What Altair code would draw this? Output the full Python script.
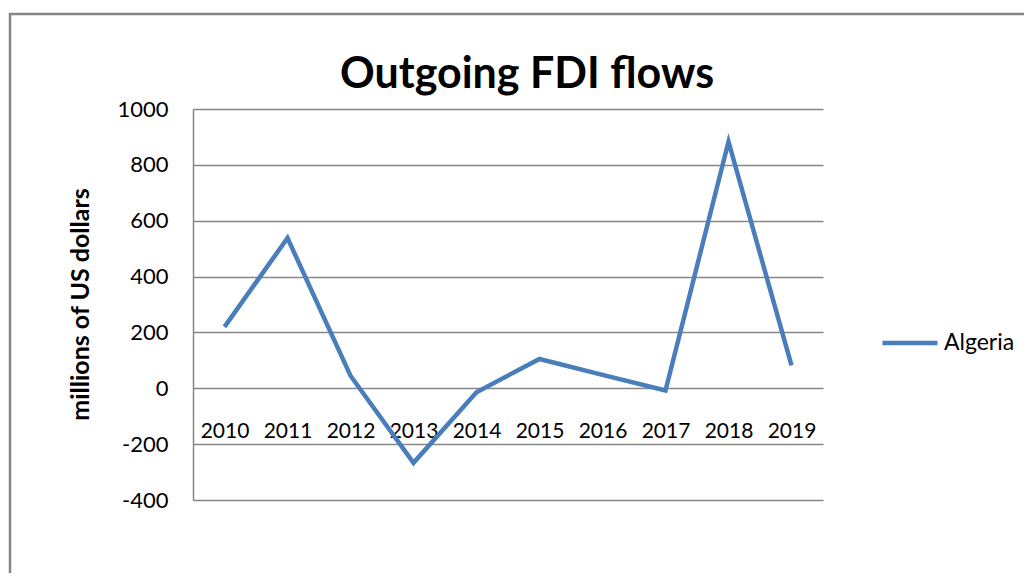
import altair as alt
import pandas as pd

years = ["2010", "2011", "2012", "2013", "2014", "2015", "2016", "2017", "2018", "2019"]
values = [220, 538, 45, -267, -14, 105, 48, -8, 883, 82]
series = ["Algeria"] * len(years)
y_ticks = [-400, -200, 0, 200, 400, 600, 800, 1000]

df = pd.DataFrame({"year": years, "value": values, "series": series})

FONT = "Lato"
GRAY = "#868686"

frame = alt.Chart(alt.Data(values=[{"f": 1}])).mark_rect(
    fill="white", fillOpacity=0, stroke=GRAY, strokeWidth=2.5
).encode(
    x=alt.value(-183), x2=alt.value(1100), y=alt.value(-95), y2=alt.value(800)
)

line = alt.Chart(df).mark_line(strokeWidth=4.5).encode(
    x=alt.X(
        "year:O",
        sort=years,
        scale=alt.Scale(type="point", padding=0.5),
        axis=alt.Axis(
            orient="bottom", offset=-111, domain=False, ticks=False, grid=False,
            labelAngle=0, labelPadding=42, labelBaseline="middle",
            labelFont=FONT, labelFontSize=21, labelColor="black", title=None,
        ),
    ),
    y=alt.Y(
        "value:Q",
        scale=alt.Scale(domain=[-400, 1000], nice=False, zero=False),
        axis=alt.Axis(
            values=y_ticks, grid=True, gridColor=GRAY, gridWidth=1.3,
            domainColor=GRAY, domainWidth=1.5, ticks=False,
            labelExpr="'' + datum.value",
            labelPadding=25, labelFont=FONT, labelFontSize=22, labelColor="black",
            title="millions of US dollars", titleFont=FONT, titleFontSize=25,
            titleFontWeight="bold", titleColor="black", titleAngle=270,
            titleX=-113, titleY=195, titleAlign="center", titleBaseline="middle",
        ),
    ),
    color=alt.Color(
        "series:N",
        scale=alt.Scale(range=["#4A7EBB"]),
        legend=alt.Legend(
            title=None, orient="none", legendX=687, legendY=204, padding=0,
            symbolType="stroke", symbolSize=3025, symbolStrokeWidth=4.5,
            labelFont=FONT, labelFontSize=23, labelColor="black", labelOffset=4,
        ),
    ),
)

chart = alt.layer(frame, line).properties(
    width=630,
    height=391,
    padding={"left": 185, "top": 101, "right": 201, "bottom": 73},
    autosize=alt.AutoSizeParams(type="none"),
    background="white",
    title=alt.TitleParams(
        "Outgoing FDI flows", font=FONT, fontSize=43, fontWeight="bold",
        color="black", anchor="middle", frame="group", dx=19, dy=142, offset=24,
        baseline="alphabetic",
    ),
).configure_view(strokeWidth=0)

chart.save("out.html", embed_options={"renderer": "svg", "actions": False})
